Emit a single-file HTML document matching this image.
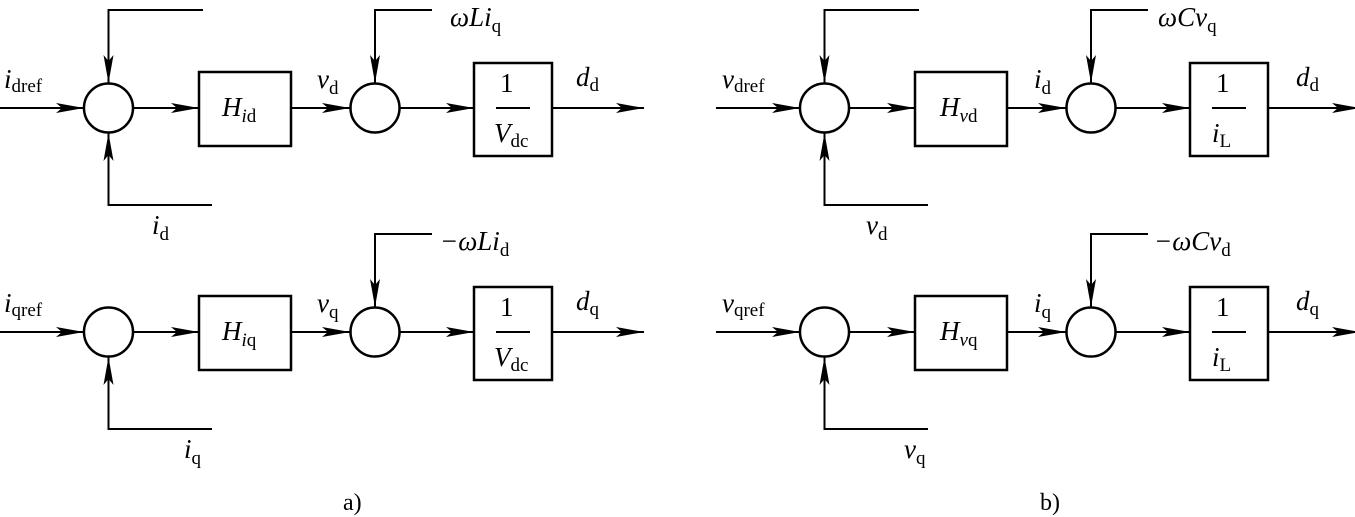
<!DOCTYPE html>
<html><head><meta charset="utf-8"><style>
html,body{margin:0;padding:0;background:#fff}
svg{display:block}
text{font-family:"Liberation Serif",serif;fill:#000}
.v{font-style:italic;font-size:27px}
.s{font-style:normal;font-size:19px}
</style></head><body>
<svg width="1355" height="517" viewBox="0 0 1355 517" xmlns="http://www.w3.org/2000/svg">
<defs>
<marker id="a" markerWidth="30" markerHeight="10" refX="28" refY="5" orient="auto" markerUnits="userSpaceOnUse">
<path d="M0,0 L28,5 L0,10 L6,5 Z" fill="#000"/>
</marker>
<g id="row">
 <line x1="0" y1="0" x2="84" y2="0" stroke="#000" stroke-width="2" marker-end="url(#a)"/>
 <circle cx="108.5" cy="0" r="24.5" fill="none" stroke="#000" stroke-width="2.5"/>
 <line x1="133" y1="0" x2="199" y2="0" stroke="#000" stroke-width="2" marker-end="url(#a)"/>
 <line x1="291" y1="0" x2="350" y2="0" stroke="#000" stroke-width="2" marker-end="url(#a)"/>
 <circle cx="375" cy="0" r="24.5" fill="none" stroke="#000" stroke-width="2.5"/>
 <line x1="399.5" y1="0" x2="474" y2="0" stroke="#000" stroke-width="2" marker-end="url(#a)"/>
 <line x1="552" y1="0" x2="644" y2="0" stroke="#000" stroke-width="2" marker-end="url(#a)"/>
 <polyline points="432,-98 375,-98 375,-25" fill="none" stroke="#000" stroke-width="2" marker-end="url(#a)"/>
 <polyline points="212,97 108.5,97 108.5,25" fill="none" stroke="#000" stroke-width="2" marker-end="url(#a)"/>
 <rect x="199" y="-36" width="92" height="74" fill="none" stroke="#000" stroke-width="2.5"/>
 <rect x="474" y="-45" width="78" height="93" fill="none" stroke="#000" stroke-width="2.5"/>
 <line x1="496" y1="0" x2="530" y2="0" stroke="#000" stroke-width="2"/>
</g>
<polyline id="fb" points="203,10 108.5,10 108.5,83" fill="none" stroke="#000" stroke-width="2" marker-end="url(#a)"/>
</defs>

<use href="#row" transform="translate(0,108)"/>
<use href="#fb"/>
<use href="#row" transform="translate(0,332)"/>
<use href="#row" transform="translate(716,108)"/>
<use href="#fb" transform="translate(716,0)"/>
<use href="#row" transform="translate(716,332)"/>

<!-- panel a row1 -->
<text x="4" y="88" class="v">i<tspan class="s" dy="4">dref</tspan></text>
<text x="222" y="116" class="v">H<tspan class="s" dy="6"><tspan font-style="italic">i</tspan>d</tspan></text>
<text x="317" y="88" class="v">v<tspan class="s" dy="6">d</tspan></text>
<text x="450" y="26" class="v">ωLi<tspan class="s" dy="6">q</tspan></text>
<text x="500" y="92" class="v" style="font-style:normal">1</text>
<text x="494" y="142" class="v">V<tspan class="s" dy="5">dc</tspan></text>
<text x="576" y="86" class="v">d<tspan class="s" dy="5">d</tspan></text>
<text x="152" y="234" class="v">i<tspan class="s" dy="6">d</tspan></text>
<!-- panel a row2 -->
<text x="4" y="312" class="v">i<tspan class="s" dy="4">qref</tspan></text>
<text x="222" y="340" class="v">H<tspan class="s" dy="6"><tspan font-style="italic">i</tspan>q</tspan></text>
<text x="317" y="312" class="v">v<tspan class="s" dy="6">q</tspan></text>
<text x="440" y="250" class="v">−ωLi<tspan class="s" dy="6">d</tspan></text>
<text x="500" y="316" class="v" style="font-style:normal">1</text>
<text x="494" y="366" class="v">V<tspan class="s" dy="5">dc</tspan></text>
<text x="576" y="310" class="v">d<tspan class="s" dy="5">q</tspan></text>
<text x="184" y="458" class="v">i<tspan class="s" dy="6">q</tspan></text>
<text x="343" y="510" style="font-size:24px">a)</text>

<!-- panel b row1 -->
<text x="722" y="88" class="v">v<tspan class="s" dy="4">dref</tspan></text>
<text x="940" y="116" class="v">H<tspan class="s" dy="6"><tspan font-style="italic">v</tspan>d</tspan></text>
<text x="1034" y="88" class="v">i<tspan class="s" dy="6">d</tspan></text>
<text x="1158" y="26" class="v">ωCv<tspan class="s" dy="6">q</tspan></text>
<text x="1216" y="92" class="v" style="font-style:normal">1</text>
<text x="1212" y="142" class="v">i<tspan class="s" dy="5">L</tspan></text>
<text x="1296" y="86" class="v">d<tspan class="s" dy="5">d</tspan></text>
<text x="866" y="234" class="v">v<tspan class="s" dy="6">d</tspan></text>
<!-- panel b row2 -->
<text x="722" y="312" class="v">v<tspan class="s" dy="4">qref</tspan></text>
<text x="940" y="340" class="v">H<tspan class="s" dy="6"><tspan font-style="italic">v</tspan>q</tspan></text>
<text x="1034" y="312" class="v">i<tspan class="s" dy="6">q</tspan></text>
<text x="1154" y="250" class="v">−ωCv<tspan class="s" dy="6">d</tspan></text>
<text x="1216" y="316" class="v" style="font-style:normal">1</text>
<text x="1212" y="366" class="v">i<tspan class="s" dy="5">L</tspan></text>
<text x="1296" y="310" class="v">d<tspan class="s" dy="5">q</tspan></text>
<text x="904" y="458" class="v">v<tspan class="s" dy="6">q</tspan></text>
<text x="1040" y="510" style="font-size:24px">b)</text>
</svg>
</body></html>
